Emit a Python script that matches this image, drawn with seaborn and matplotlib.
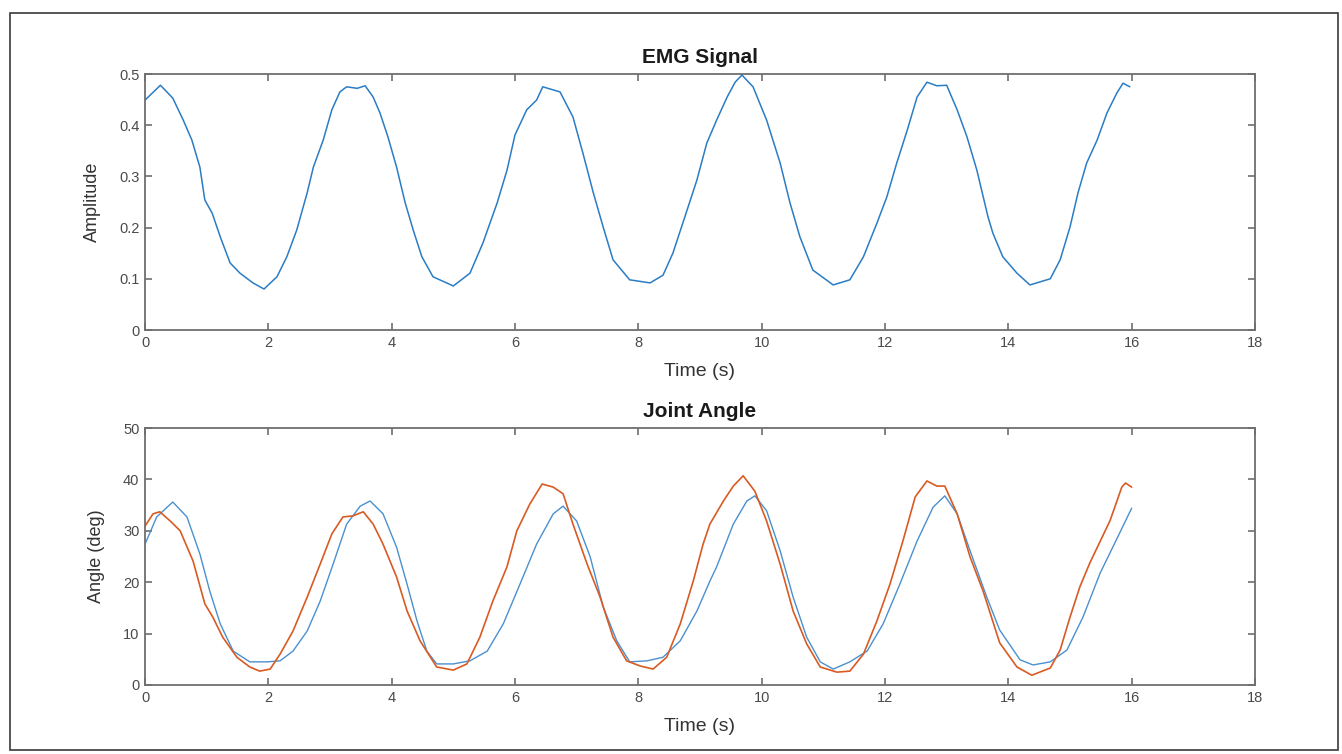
import numpy as np
import pandas as pd
import matplotlib
matplotlib.use("Agg")
import matplotlib.pyplot as plt
import seaborn as sns
from matplotlib.patches import Rectangle

# ---------------- data ----------------
emg_t = [0.0, 0.25, 0.45, 0.62, 0.76, 0.89, 0.97, 1.09, 1.22, 1.38, 1.54, 1.75, 1.93,
         2.14, 2.30, 2.46, 2.63, 2.73, 2.89, 3.03, 3.16, 3.27, 3.44, 3.57, 3.70, 3.81,
         3.94, 4.08, 4.22, 4.35, 4.49, 4.67, 5.00, 5.27, 5.48, 5.71, 5.87, 6.00, 6.19,
         6.35, 6.45, 6.73, 6.94, 7.10, 7.27, 7.43, 7.59, 7.86, 8.19, 8.40, 8.56, 8.79,
         8.95, 9.11, 9.27, 9.44, 9.57, 9.68, 9.86, 10.08, 10.30, 10.46, 10.62, 10.83,
         11.16, 11.43, 11.65, 11.87, 12.03, 12.19, 12.36, 12.52, 12.68, 12.84, 13.00,
         13.17, 13.33, 13.49, 13.67, 13.75, 13.91, 14.14, 14.35, 14.68, 14.84, 15.00,
         15.13, 15.27, 15.44, 15.60, 15.76, 15.86, 15.97]
emg_v = [0.449, 0.478, 0.453, 0.410, 0.371, 0.318, 0.254, 0.228, 0.182, 0.131, 0.111,
         0.092, 0.080, 0.104, 0.143, 0.195, 0.268, 0.318, 0.371, 0.430, 0.465, 0.475,
         0.472, 0.477, 0.455, 0.424, 0.377, 0.318, 0.248, 0.195, 0.143, 0.104, 0.086,
         0.111, 0.170, 0.248, 0.312, 0.381, 0.430, 0.449, 0.475, 0.465, 0.416, 0.346,
         0.268, 0.201, 0.137, 0.098, 0.092, 0.107, 0.150, 0.234, 0.293, 0.365, 0.410,
         0.455, 0.484, 0.498, 0.475, 0.410, 0.326, 0.248, 0.182, 0.117, 0.088, 0.098,
         0.143, 0.209, 0.260, 0.326, 0.390, 0.455, 0.484, 0.477, 0.478, 0.430, 0.377,
         0.312, 0.221, 0.189, 0.143, 0.111, 0.088, 0.100, 0.137, 0.201, 0.268, 0.326,
         0.371, 0.424, 0.463, 0.482, 0.475]

est_t = [0.0, 0.19, 0.45, 0.68, 0.89, 1.05, 1.22, 1.43, 1.70, 1.98, 2.19, 2.40, 2.63,
         2.84, 3.05, 3.27, 3.49, 3.65, 3.86, 4.08, 4.25, 4.41, 4.57, 4.73, 5.00, 5.27,
         5.55, 5.81, 6.08, 6.35, 6.62, 6.78, 7.00, 7.22, 7.43, 7.65, 7.86, 8.14, 8.40,
         8.68, 8.95, 9.16, 9.27, 9.54, 9.76, 9.89, 10.08, 10.30, 10.51, 10.73, 10.95,
         11.16, 11.43, 11.71, 11.97, 12.24, 12.52, 12.78, 12.97, 13.17, 13.38, 13.65,
         13.86, 14.19, 14.40, 14.68, 14.95, 15.21, 15.49, 15.75, 16.0]
est_v = [27.4, 32.7, 35.6, 32.7, 25.5, 18.3, 11.9, 6.6, 4.5, 4.5, 4.7, 6.6, 10.5, 16.3,
         23.5, 31.3, 34.8, 35.8, 33.3, 26.8, 19.6, 12.5, 6.6, 4.1, 4.1, 4.7, 6.6, 11.9,
         19.6, 27.4, 33.3, 34.8, 31.9, 24.9, 15.2, 8.6, 4.5, 4.7, 5.4, 8.6, 14.4, 20.2,
         23.0, 31.3, 35.8, 36.8, 33.9, 26.1, 17.1, 9.3, 4.5, 3.1, 4.5, 6.6, 11.9, 19.6,
         28.0, 34.6, 36.8, 33.3, 26.1, 17.1, 10.7, 4.9, 3.9, 4.5, 6.8, 13.2, 21.8, 28.2,
         34.4]

meas_t = [0.0, 0.13, 0.24, 0.41, 0.57, 0.78, 0.97, 1.10, 1.26, 1.49, 1.70, 1.86, 2.03,
          2.19, 2.40, 2.63, 2.84, 3.03, 3.21, 3.37, 3.54, 3.70, 3.86, 4.08, 4.25, 4.46,
          4.73, 5.00, 5.22, 5.43, 5.64, 5.87, 6.03, 6.24, 6.44, 6.62, 6.78, 6.94, 7.17,
          7.38, 7.59, 7.81, 8.03, 8.24, 8.46, 8.68, 8.89, 9.05, 9.16, 9.38, 9.54, 9.70,
          9.89, 10.08, 10.30, 10.51, 10.73, 10.95, 11.22, 11.43, 11.65, 11.87, 12.08,
          12.29, 12.49, 12.68, 12.84, 12.97, 13.17, 13.38, 13.59, 13.86, 14.14, 14.38,
          14.68, 14.84, 15.00, 15.16, 15.32, 15.65, 15.84, 15.90, 16.0]
meas_v = [30.9, 33.3, 33.7, 31.9, 30.0, 24.1, 15.8, 13.2, 9.3, 5.4, 3.5, 2.7, 3.1, 6.0,
          10.5, 17.1, 23.5, 29.4, 32.7, 32.9, 33.7, 31.3, 27.4, 21.0, 14.4, 8.6, 3.5,
          2.9, 4.1, 9.3, 16.3, 23.0, 30.0, 35.2, 39.1, 38.5, 37.2, 31.3, 23.5, 17.1,
          9.3, 4.7, 3.7, 3.1, 5.4, 11.9, 20.2, 27.4, 31.3, 35.8, 38.7, 40.7, 37.7, 31.9,
          23.5, 14.4, 8.0, 3.5, 2.5, 2.7, 6.0, 12.5, 19.6, 28.0, 36.6, 39.7, 38.7, 38.7,
          33.3, 24.9, 18.3, 8.2, 3.5, 1.9, 3.3, 6.8, 13.2, 19.1, 23.7, 32.0, 38.5, 39.3,
          38.5]

x_ticks = [0, 2, 4, 6, 8, 10, 12, 14, 16, 18]
emg_yticks = [0, 0.1, 0.2, 0.3, 0.4, 0.5]
ang_yticks = [0, 10, 20, 30, 40, 50]

# ---------------- styling ----------------
sns.set_theme(style="white")
plt.rcParams["font.family"] = ["Liberation Sans", "DejaVu Sans"]
AX_COL = "#6e6e6e"
TXT_COL = "#4a4a4a"
BLUE = "#2a7cc4"
ORANGE = "#d95a22"

fig = plt.figure(figsize=(13.42, 7.54), dpi=100)
fig.patch.set_facecolor("white")

W, H = 1342, 754
def rect(l, t, r, b):
    return [l / W, 1 - b / H, (r - l) / W, (b - t) / H]

ax1 = fig.add_axes(rect(145, 74, 1255, 330))
ax2 = fig.add_axes(rect(145, 428, 1255, 685))

emg_df = pd.DataFrame({"t": emg_t, "v": emg_v})
sns.lineplot(data=emg_df, x="t", y="v", ax=ax1, color=BLUE, linewidth=1.1,
             estimator=None, sort=False)

est_df = pd.DataFrame({"t": est_t, "v": est_v})
meas_df = pd.DataFrame({"t": meas_t, "v": meas_v})
sns.lineplot(data=est_df, x="t", y="v", ax=ax2, color="#4a90cf", linewidth=1.0,
             estimator=None, sort=False)
sns.lineplot(data=meas_df, x="t", y="v", ax=ax2, color=ORANGE, linewidth=1.2,
             estimator=None, sort=False)

for ax, yt, ylim, ylab, title in [
    (ax1, emg_yticks, (0, 0.5), "Amplitude", "EMG Signal"),
    (ax2, ang_yticks, (0, 50), "Angle (deg)", "Joint Angle"),
]:
    ax.set_xlim(0, 18)
    ax.set_ylim(*ylim)
    ax.set_xticks(x_ticks)
    ax.set_yticks(yt)
    ax.set_xticklabels([str(v) for v in x_ticks])
    ax.set_yticklabels([("%g" % v) for v in yt])
    ax.set_xlabel("Time (s)", fontsize=14, color="#333333", labelpad=10)
    ax.set_ylabel(ylab, fontsize=13, color="#333333", labelpad=13)
    ax.set_title(title, fontsize=15, fontweight="bold", color="#1a1a1a", pad=8)
    for s in ax.spines.values():
        s.set_visible(True)
        s.set_color(AX_COL)
        s.set_linewidth(1.3)
    ax.tick_params(axis="both", which="both", direction="in", length=5, width=1.2,
                   color=AX_COL, labelcolor=TXT_COL, labelsize=10.5, top=True,
                   right=True, bottom=True, left=True, pad=4)
    ax.grid(False)

# outer frame of the figure
fig.patches.append(Rectangle((10 / W, 1 - 750 / H), (1338 - 10) / W, (750 - 13) / H,
                             transform=fig.transFigure, fill=False,
                             edgecolor="#3a3a3a", linewidth=1.2))

fig.savefig("out.png", dpi=100, facecolor="white")
